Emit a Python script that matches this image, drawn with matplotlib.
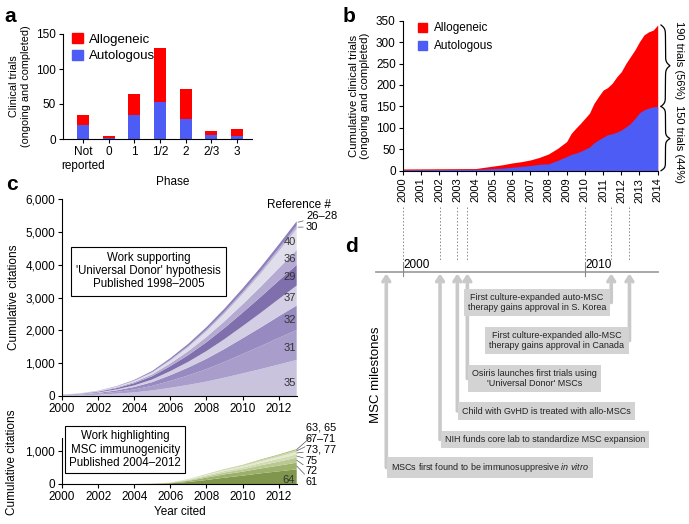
"""
MSC clinical trials / citations / milestones figure (a-d)
"""

import numpy as np
import matplotlib
matplotlib.use('Agg')
import matplotlib.pyplot as plt
import matplotlib.transforms as mtransforms
from matplotlib.patches import Patch
from matplotlib.ticker import FuncFormatter

plt.rcParams['font.family'] = ['Liberation Sans', 'DejaVu Sans']
plt.rcParams['font.size'] = 8
plt.rcParams['mathtext.fontset'] = 'custom'
plt.rcParams['mathtext.it'] = 'Liberation Sans:italic'
plt.rcParams['mathtext.rm'] = 'Liberation Sans'
plt.rcParams['axes.linewidth'] = 0.8

W, H = 689, 524
RED = '#ff0000'
BLUE = '#4c5cf5'

# ---- panel a: trials per phase
phases = ['Not\nreported', '0', '1', '1/2', '2', '2/3', '3']
phase_auto = [20, 2, 34, 53, 29, 6, 5]
phase_allo = [14, 2, 30, 77, 42, 5, 10]

# ---- panel b: cumulative trials
trial_years = [2000, 2004, 2005, 2005.5, 2006, 2006.5, 2007, 2007.5, 2008, 2008.5,
               2009, 2009.25, 2009.5, 2009.75, 2010, 2010.25, 2010.5, 2010.75,
               2011, 2011.25, 2011.5, 2011.75, 2012, 2012.25, 2012.5, 2012.75,
               2013, 2013.25, 2013.5, 2013.75, 2014]
trials_total = [4, 5, 11, 14, 18, 21, 25, 31, 39, 52, 68, 87, 99, 110, 122, 134,
                157, 173, 188, 194, 204, 219, 231, 250, 266, 282, 301, 317, 324,
                328, 340]
trials_auto = [2, 3, 5, 6, 8, 10, 12, 15, 16, 24, 33, 38, 41, 45, 50, 55, 65, 72,
               78, 84, 86, 90, 95, 102, 110, 122, 135, 142, 146, 149, 150]

# ---- panel c: cumulative citations
cite_years = list(range(2000, 2014))
cites_35 = [10, 20, 40, 70, 110, 170, 250, 340, 440, 560, 690, 820, 960, 1100]
cites_31 = [8, 16, 30, 55, 90, 140, 210, 290, 380, 480, 590, 700, 810, 910]
cites_32 = [6, 12, 24, 45, 75, 115, 175, 240, 315, 395, 480, 570, 660, 750]
cites_37 = [4, 8, 16, 30, 50, 80, 125, 175, 235, 300, 370, 445, 525, 610]
cites_29 = [5, 10, 20, 38, 65, 100, 150, 205, 270, 340, 410, 485, 560, 630]
cites_36 = [3, 6, 12, 22, 36, 55, 85, 120, 160, 205, 255, 310, 380, 450]
cites_40 = [2, 5, 10, 20, 35, 55, 85, 125, 175, 235, 310, 400, 510, 650]
cites_30 = [1, 1, 3, 6, 10, 15, 25, 35, 45, 55, 65, 75, 88, 100]
cites_26_28 = [1, 3, 6, 10, 20, 35, 50, 65, 80, 95, 110, 120, 125, 130]
donor_refs = ['35', '31', '32', '37', '29', '36', '40', '30', '26–28']
donor_colors = ['#c9c3de', '#a99ecb', '#978ac0', '#d3cee4', '#7f6fac', '#b4aad2',
                '#e1deec', '#bcb3d8', '#8e80ba']

cites_64 = [0, 0, 0, 0, 0, 5, 20, 60, 120, 190, 250, 320, 380, 440]
cites_61 = [0, 0, 0, 0, 0, 2, 10, 35, 70, 100, 120, 145, 170, 200]
cites_72 = [0, 0, 0, 0, 0, 1, 5, 20, 40, 55, 70, 95, 120, 150]
cites_75 = [0, 0, 0, 0, 0, 1, 4, 15, 30, 45, 55, 70, 85, 100]
cites_73_77 = [0, 0, 0, 0, 0, 0, 2, 10, 20, 30, 40, 55, 65, 80]
cites_67_71 = [0, 0, 0, 0, 0, 0, 1, 5, 12, 18, 25, 32, 40, 50]
cites_63_65 = [0, 0, 0, 0, 0, 0, 0, 2, 5, 8, 12, 18, 24, 30]
immuno_refs = ['64', '61', '72', '75', '73, 77', '67–71', '63, 65']
immuno_colors = ['#7f964c', '#9db16c', '#bac992', '#d2dcb4', '#e3e9cf', '#c8d5a3',
                 '#a8bb76']

# ---- panel d: milestones
milestone_years = [1999.1, 2002.05, 2003.0, 2003.55, 2011.45, 2012.45]
milestone_text = ['MSCs first found to be immunosuppresive $\\mathit{in\\ vitro}$',
                  'NIH funds core lab to standardize MSC expansion',
                  'Child with GvHD is treated with allo-MSCs',
                  "Osiris launches first trials using\n'Universal Donor' MSCs",
                  'First culture-expanded auto-MSC\ntherapy gains approval in S. Korea',
                  'First culture-expanded allo-MSC\ntherapy gains approval in Canada']
milestone_rows = [467.5, 439.5, 411, 378.5, 302.5, 340.5]
milestone_side = ['left', 'left', 'left', 'left', 'right', 'right']
timeline_years = [2000, 2010]

fig = plt.figure(figsize=(W / 100, H / 100), dpi=100)


def px_axes(x0, y0, x1, y1):
    return fig.add_axes([x0 / W, 1 - y1 / H, (x1 - x0) / W, (y1 - y0) / H])


def style(ax):
    for s in ['top', 'right']:
        ax.spines[s].set_visible(False)
    ax.tick_params(direction='out', length=3, width=0.8, pad=2, labelsize=8.5)


comma = FuncFormatter(lambda v, p: f'{int(v):,}')

# a
ax_a = px_axes(63, 34, 252, 139)
xa = np.arange(len(phases))
ax_a.bar(xa, phase_auto, width=0.47, color=BLUE)
ax_a.bar(xa, phase_allo, width=0.47, bottom=phase_auto, color=RED)
ax_a.set_xlim(-0.78, 6.58)
ax_a.set_ylim(0, 150)
ax_a.set_yticks([0, 50, 100, 150])
ax_a.set_xticks(xa)
ax_a.set_xticklabels(phases)
style(ax_a)
ax_a.set_xlabel('Phase', x=0.58, labelpad=3, fontsize=8.5)
ax_a.set_ylabel('Clinical trials\n(ongoing and completed)', fontsize=7.8, labelpad=4)
ax_a.legend(handles=[Patch(color=RED, label='Allogeneic'),
                     Patch(color=BLUE, label='Autologous')],
            loc='upper left', bbox_to_anchor=(0.02, 1.06), frameon=False,
            fontsize=9.5, handlelength=0.8, handleheight=0.8, handletextpad=0.5,
            labelspacing=0.3, borderaxespad=0)

# b
ax_b = px_axes(402.7, 20.7, 657.7, 170.7)
ax_b.fill_between(trial_years, 0, trials_total, color=RED, lw=0)
ax_b.fill_between(trial_years, 0, trials_auto, color=BLUE, lw=0)
ax_b.set_xlim(2000, 2014)
ax_b.set_ylim(0, 350)
ax_b.set_yticks(range(0, 351, 50))
ax_b.set_xticks(range(2000, 2015))
style(ax_b)
ax_b.tick_params(axis='x', labelrotation=90, labelsize=8)
ax_b.set_ylabel('Cumulative clinical trials\n(ongoing and completed)', fontsize=8.2,
                labelpad=4)
ax_b.legend(handles=[Patch(color=RED, label='Allogeneic'),
                     Patch(color=BLUE, label='Autologous')],
            loc='upper left', bbox_to_anchor=(0.04, 1.02), frameon=False,
            fontsize=8.5, handlelength=0.8, handleheight=0.8, handletextpad=0.6,
            labelspacing=0.5, borderaxespad=0)

blend = mtransforms.blended_transform_factory(ax_b.transAxes, ax_b.transData)


def draw_brace(y0, y1, x0=1.013, width=0.035):
    t = np.linspace(0, 1, 151)
    half = 1 / (1 + np.exp(-22 * t)) + 1 / (1 + np.exp(-22 * (t - 1)))
    prof = np.concatenate([half, half[::-1][1:]])
    yy = np.linspace(y0, y1, len(prof))
    ax_b.plot(x0 + width * (prof - 0.5), yy, color='black', lw=0.9,
              transform=blend, clip_on=False)


total = trials_total[-1]
auto = trials_auto[-1]
draw_brace(total, auto)
draw_brace(auto, 0)
ax_b.text(1.085, 258, f'{total - auto} trials ({round(100 * (total - auto) / total)}%)',
          rotation=270, ha='center', va='center', fontsize=8, transform=blend)
ax_b.text(1.085, 62, f'{auto} trials ({round(100 * auto / total)}%)',
          rotation=270, ha='center', va='center', fontsize=8, transform=blend)

# c top
ax_c = px_axes(62, 199.3, 296.7, 396)
donor_stack = [cites_35, cites_31, cites_32, cites_37, cites_29, cites_36,
               cites_40, cites_30, cites_26_28]
ax_c.stackplot(cite_years, donor_stack, colors=donor_colors, lw=0)
ax_c.set_xlim(2000, 2013)
ax_c.set_ylim(0, 6000)
ax_c.set_yticks(range(0, 6001, 1000))
ax_c.yaxis.set_major_formatter(comma)
ax_c.set_xticks(range(2000, 2013, 2))
style(ax_c)
ax_c.set_ylabel('Cumulative citations', fontsize=8.5, labelpad=4)
tops = np.cumsum([s[-1] for s in donor_stack])
bots = tops - np.array([s[-1] for s in donor_stack])
for i, ref in enumerate(donor_refs[:7]):
    frac = 0.35 if i == 0 else 0.4
    ax_c.text(2012.95, bots[i] + frac * (tops[i] - bots[i]), ref, ha='right',
              va='center', fontsize=8, color='#333333')
ax_c.annotate('26–28', xy=(2013, tops[8] - 40), xytext=(306, H - 216),
              textcoords='figure pixels', ha='left', va='center', fontsize=8,
              arrowprops=dict(arrowstyle='-', lw=0.5, color='#555555',
                              shrinkA=0, shrinkB=1))
ax_c.annotate('30', xy=(2013, tops[7] - 50), xytext=(306, H - 227),
              textcoords='figure pixels', ha='left', va='center', fontsize=8,
              arrowprops=dict(arrowstyle='-', lw=0.5, color='#555555',
                              shrinkA=0, shrinkB=1))
fig.text(299 / W, 1 - 205 / H, 'Reference #', ha='center', va='center', fontsize=8.5)
ax_c.text(0.37, 0.635, "Work supporting\n'Universal Donor' hypothesis\nPublished 1998–2005",
          transform=ax_c.transAxes, ha='center', va='center', fontsize=8.3,
          linespacing=1.15,
          bbox=dict(boxstyle='square,pad=0.45', fc='white', ec='black', lw=0.8))

# c bottom
ax_g = px_axes(62, 438, 296.7, 484)
immuno_stack = [cites_64, cites_61, cites_72, cites_75, cites_73_77, cites_67_71,
                cites_63_65]
ax_g.stackplot(cite_years, immuno_stack, colors=immuno_colors, lw=0)
ax_g.set_xlim(2000, 2013)
ax_g.set_ylim(0, 1380)
ax_g.set_yticks([0, 1000])
ax_g.yaxis.set_major_formatter(comma)
ax_g.set_xticks(range(2000, 2013, 2))
style(ax_g)
ax_g.set_xlabel('Year cited', fontsize=8.5, labelpad=2)
fig.text(12 / W, 1 - 462 / H, 'Cumulative citations', rotation=90, ha='center',
         va='center', fontsize=8.5)
gtops = np.cumsum([s[-1] for s in immuno_stack])
gbots = gtops - np.array([s[-1] for s in immuno_stack])
ax_g.text(2012.9, gbots[0] + 0.3 * (gtops[0] - gbots[0]), immuno_refs[0], ha='right',
          va='center', fontsize=8, color='#333333')
label_rows = [482, 471, 460.5, 450, 439, 428]
for i, row in zip(range(1, 7), label_rows):
    ax_g.annotate(immuno_refs[i], xy=(2013, (gtops[i] + gbots[i]) / 2),
                  xytext=(306, H - row), textcoords='figure pixels', ha='left',
                  va='center', fontsize=7.8, annotation_clip=False,
                  arrowprops=dict(arrowstyle='-', lw=0.5, color='#555555',
                                  shrinkA=0, shrinkB=0))
ax_g.text(0.27, 0.75, 'Work highlighting\nMSC immunogenicity\nPublished 2004–2012',
          transform=ax_g.transAxes, ha='center', va='center', fontsize=8.3,
          linespacing=1.15,
          bbox=dict(boxstyle='square,pad=0.35', fc='white', ec='black', lw=0.8))

# d
ax_d = px_axes(402.7, 200, 657.7, 500)
ax_d.set_xlim(2000, 2014)
ax_d.set_ylim(500, 200)
ax_d.axis('off')
gray = '#c9c9c9'
line_y = 272
ax_d.plot([1998.55, 2014.0], [line_y, line_y], color='#a0a0a0', lw=1.3,
          clip_on=False)
for yr in timeline_years:
    ax_d.plot([yr, yr], [line_y - 10, line_y + 4], color='#888888', lw=0.8)
    ax_d.text(yr + 0.05, line_y - 1.5, str(yr), ha='left', va='bottom', fontsize=8.5)
for yr in timeline_years + [y for y in milestone_years if y >= 2000]:
    ax_d.plot([yr, yr], [207, 260], color='#888888', lw=0.7, ls=(0, (1.5, 2)),
              clip_on=False)
for yr, txt, row, side in zip(milestone_years, milestone_text, milestone_rows,
                              milestone_side):
    ax_d.annotate('', xy=(yr, line_y + 1.5), xytext=(yr, row),
                  arrowprops=dict(arrowstyle='->,head_length=0.45,head_width=0.3',
                                  color=gray, lw=2.6, shrinkA=0, shrinkB=0),
                  annotation_clip=False, zorder=1)
    off = 5 if side == 'left' else -5
    ax_d.annotate(txt, xy=(yr, row), xytext=(off, 0), textcoords='offset pixels',
                  ha=side, va='center', fontsize=6.5, multialignment='center',
                  color='#222222', annotation_clip=False, zorder=2,
                  bbox=dict(boxstyle='square,pad=0.45', fc='#d3d3d3', ec='none'))
fig.text(376 / W, 1 - 375 / H, 'MSC milestones', rotation=90, ha='center',
         va='center', fontsize=9.5)

# panel letters
for letter, x, y in [('a', 4, 22), ('b', 343, 22), ('c', 6, 190), ('d', 345, 252)]:
    fig.text(x / W, 1 - y / H, letter, fontsize=15, fontweight='bold',
             va='baseline', ha='left')

fig.savefig('out.png', dpi=100)
